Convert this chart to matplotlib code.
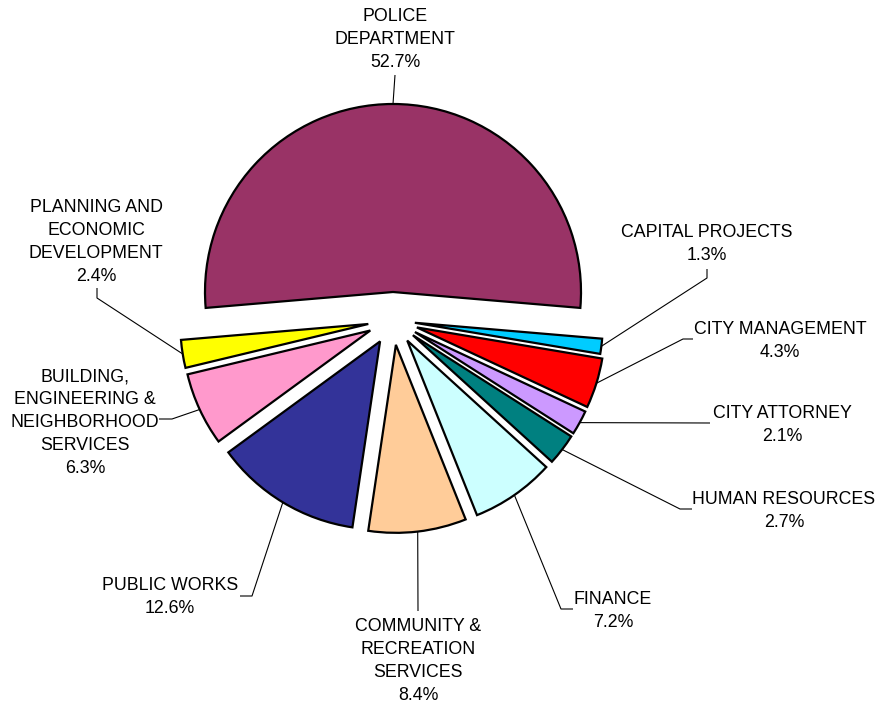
import numpy as np
import matplotlib
matplotlib.use("Agg")
import matplotlib.pyplot as plt

plt.rcParams["font.family"] = ["Liberation Sans", "DejaVu Sans"]

# departments, clockwise from the top
departments = [
    "POLICE\nDEPARTMENT",
    "CAPITAL PROJECTS",
    "CITY MANAGEMENT",
    "CITY ATTORNEY",
    "HUMAN RESOURCES",
    "FINANCE",
    "COMMUNITY &\nRECREATION\nSERVICES",
    "PUBLIC WORKS",
    "BUILDING,\nENGINEERING &\nNEIGHBORHOOD\nSERVICES",
    "PLANNING AND\nECONOMIC\nDEVELOPMENT",
]
shares = [52.7, 1.3, 4.3, 2.1, 2.7, 7.2, 8.4, 12.6, 6.3, 2.4]
colors = ["#993366", "#00CCFF", "#FF0000", "#CC99FF", "#008080",
          "#CCFFFF", "#FFCC99", "#333399", "#FF99CC", "#FFFF00"]

W, H = 876, 703
cx, cy, R = 393, 320, 188          # pie centre / radius in pixels (y down)
explode_px = [28, 22, 25, 25, 25, 25, 25, 25, 25, 25]
start = 90 + shares[0] / 100 * 180  # police slice centred on top

# label text anchor (centre x, top y) and leader-line path after the arc point
label_pos = [(395, 8), (707, 224), (780, 321), (782, 405), (784, 491),
             (613, 591), (418, 618), (170, 577), (85, 368), (96, 199)]
leaders = [
    [(395, 75)],
    [(707, 278), (707, 269)],
    [(683, 339), (693, 339)],
    [(710, 423)],
    [(680, 509), (692, 509)],
    [(561, 609), (573, 609)],
    [(418, 611)],
    [(252, 596), (240, 596)],
    [(172, 419), (159, 419)],
    [(97, 298), (97, 288)],
]

fig = plt.figure(figsize=(W / 100, H / 100), dpi=100)
ax = fig.add_axes([0, 0, 1, 1])

# explode is given in data units (pixels here)
ax.pie(shares, explode=explode_px, colors=colors,
       startangle=start, counterclock=False, center=(cx, H - cy), radius=R,
       wedgeprops=dict(edgecolor="black", linewidth=1.6, joinstyle="miter"))

# leader lines and labels
cum = 0.0
for name, val, e, pos, path in zip(departments, shares, explode_px, label_pos, leaders):
    mid = np.deg2rad(start - (cum + val / 2) / 100 * 360)
    cum += val
    ax_pt = (cx + (R + e) * np.cos(mid), H - cy + (R + e) * np.sin(mid))
    xs = [ax_pt[0]] + [p[0] for p in path]
    ys = [ax_pt[1]] + [H - p[1] for p in path]
    ax.plot(xs, ys, color="black", linewidth=0.8, solid_capstyle="butt")
    ax.text(pos[0], H - pos[1], f"{name}\n{val}%", ha="center", va="top",
            multialignment="center", fontsize=12.8, linespacing=1.47)

ax.set_xlim(0, W)
ax.set_ylim(0, H)
ax.set_aspect("equal")
ax.axis("off")

fig.savefig("out.png", dpi=100, facecolor="white")
